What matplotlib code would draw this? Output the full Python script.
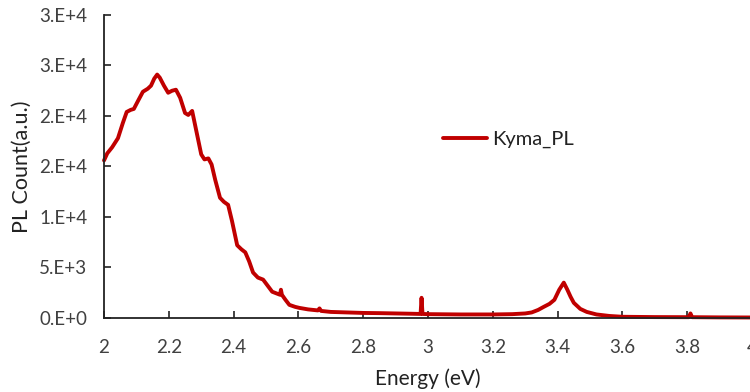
import matplotlib.pyplot as plt
from matplotlib.ticker import FixedLocator, FixedFormatter

# PL spectrum
energy = [2.000, 2.010, 2.025, 2.043, 2.058, 2.070, 2.082, 2.092, 2.105, 2.120,
          2.135, 2.145, 2.155, 2.164, 2.172, 2.185, 2.198, 2.210, 2.222, 2.235,
          2.250, 2.260, 2.272, 2.285, 2.300, 2.310, 2.322, 2.332, 2.343, 2.358,
          2.370, 2.383, 2.395, 2.411, 2.424, 2.436, 2.448, 2.460, 2.475, 2.491,
          2.505, 2.519, 2.535, 2.543, 2.546, 2.549, 2.560, 2.572, 2.590, 2.603,
          2.630, 2.660, 2.665, 2.670, 2.700, 2.750, 2.800, 2.850, 2.900, 2.950,
          2.977, 2.980, 2.983, 3.000, 3.100, 3.200, 3.260, 3.300, 3.320, 3.340,
          3.357, 3.375, 3.390, 3.405, 3.419, 3.430, 3.440, 3.450, 3.470, 3.490,
          3.520, 3.560, 3.600, 3.700, 3.805, 3.810, 3.815, 3.900, 4.000]
counts = [15600, 16300, 16900, 17800, 19300, 20400, 20600, 20700, 21500, 22400,
          22700, 23000, 23700, 24100, 23800, 23000, 22300, 22500, 22600, 21800,
          20300, 20100, 20500, 18500, 16200, 15700, 15800, 15200, 13700, 11900,
          11500, 11200, 9600, 7200, 6800, 6500, 5600, 4500, 4000, 3800,
          3200, 2600, 2400, 2300, 2800, 2300, 1800, 1300, 1100, 1000,
          850, 750, 950, 700, 600, 550, 500, 480, 450, 420,
          400, 2000, 400, 380, 350, 350, 380, 450, 550, 800,
          1100, 1400, 1800, 2800, 3500, 2800, 2100, 1500, 900, 600,
          350, 200, 120, 90, 80, 450, 80, 60, 50]

y_ticks = [0, 5000, 10000, 15000, 20000, 25000, 30000]
y_tick_labels = ["0.E+0", "5.E+3", "1.E+4", "2.E+4", "2.E+4", "3.E+4", "3.E+4"]
x_ticks = [2, 2.2, 2.4, 2.6, 2.8, 3, 3.2, 3.4, 3.6, 3.8, 4]
x_tick_labels = ["2", "2.2", "2.4", "2.6", "2.8", "3", "3.2", "3.4", "3.6", "3.8", "4"]

plt.rcParams['font.family'] = ['Lato', 'DejaVu Sans']

fig = plt.figure(figsize=(7.5, 3.92), dpi=100)
ax = fig.add_axes([0.1387, 0.1888, 0.864, 0.773])

ax.plot(energy, counts, color='#c00000', linewidth=2.8, label='Kyma_PL',
        solid_joinstyle='round', solid_capstyle='round', clip_on=False)

ax.set_xlim(2, 4)
ax.set_ylim(0, 30000)
ax.xaxis.set_major_locator(FixedLocator(x_ticks))
ax.xaxis.set_major_formatter(FixedFormatter(x_tick_labels))
ax.yaxis.set_major_locator(FixedLocator(y_ticks))
ax.yaxis.set_major_formatter(FixedFormatter(y_tick_labels))

for side in ['top', 'right']:
    ax.spines[side].set_visible(False)
for side in ['left', 'bottom']:
    ax.spines[side].set_linewidth(1.3)
    ax.spines[side].set_color('#222222')
ax.tick_params(direction='in', length=5, width=1.2, color='#222222',
               labelsize=13.5, labelcolor='#404040')
ax.tick_params(axis='y', pad=12)
ax.tick_params(axis='x', pad=15)

ax.set_xlabel("Energy (eV)", fontsize=15, color='#222222', labelpad=9)
ax.set_ylabel("PL Count(a.u.)", fontsize=15.5, color='#222222', labelpad=5)

ax.legend(loc='center left', bbox_to_anchor=(0.523, 0.59), frameon=False,
          fontsize=14.5, handlelength=2.2, handletextpad=0.25,
          borderpad=0, borderaxespad=0, labelcolor='#222222')

fig.savefig("out.png", dpi=100)
